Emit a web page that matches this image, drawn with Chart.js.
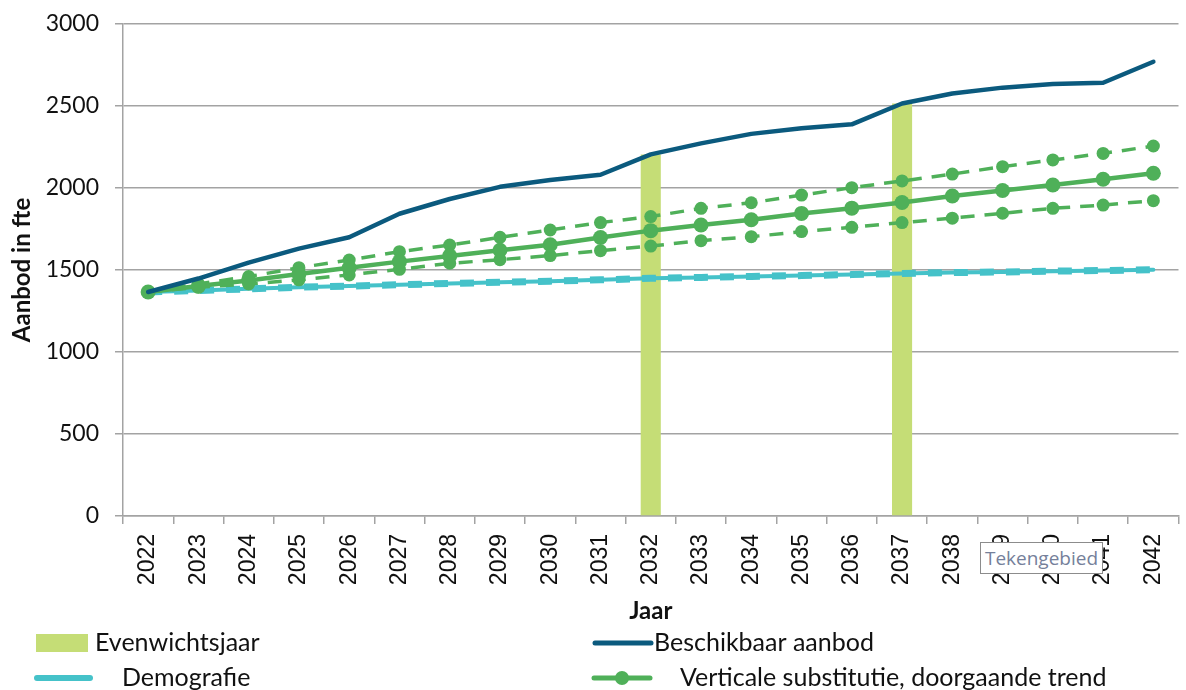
<!DOCTYPE html>
<html>
<head>
<meta charset="utf-8">
<script src="https://cdn.jsdelivr.net/npm/chart.js@4/dist/chart.umd.min.js"></script>
<style>
  html, body { margin: 0; padding: 0; background: #ffffff; }
  #wrap { position: relative; width: 1186px; height: 690px; }
  #tip {
    position: absolute; left: 980px; top: 542px; width: 123px; height: 32px;
    background: #ffffff; border: 1px solid #8c8c8c; box-sizing: border-box;
    font: 19px "Open Sans", sans-serif; color: #75809a; line-height: 30px; text-align: center;
  }
</style>
</head>
<body>
<div id="wrap">
  <canvas id="c" width="1186" height="690"></canvas>
  <div id="tip">Tekengebied</div>
</div>
<script>
// Jaren op de x-as
const jaren = ['2022','2023','2024','2025','2026','2027','2028','2029','2030','2031','2032',
               '2033','2034','2035','2036','2037','2038','2039','2040','2041','2042'];

// Aanbod in fte per scenario
const beschikbaarAanbod = [1366,1448,1545,1630,1700,1843,1933,2007,2049,2081,2205,
                           2272,2330,2364,2388,2515,2576,2612,2634,2642,2770];
const demografie        = [1366,1375,1385,1395,1402,1410,1418,1425,1432,1440,1449,
                           1455,1461,1466,1472,1478,1484,1488,1493,1497,1502];
const vsTrend           = [1366,1402,1436,1476,1514,1551,1586,1620,1654,1698,1740,
                           1774,1806,1845,1877,1912,1951,1985,2018,2053,2090];
const vsBoven           = [1366,1415,1460,1514,1561,1612,1652,1699,1744,1789,1826,
                           1876,1910,1957,2002,2043,2085,2130,2171,2211,2256];
const vsOnder           = [1366,1395,1415,1440,1470,1504,1541,1563,1588,1618,1646,
                           1679,1703,1734,1760,1789,1816,1846,1876,1896,1923];

// Jaren waarin vraag en aanbod in evenwicht zijn
const evenwichtsjaren = ['2032','2037'];

// Y-as ticks
const yTicks = [0,500,1000,1500,2000,2500,3000];

const KLEUR_BALK  = '#c5dd76';
const KLEUR_BLAUW = '#0b5a7e';
const KLEUR_CYAAN = '#45c2c9';
const KLEUR_GROEN = '#4fb059';
const GRIJS = '#a3a3a3';
const TEKST = '#111111';

// Balk op de hoogte van het beschikbaar aanbod in elk evenwichtsjaar
const evenwichtData = jaren.map((j, i) => evenwichtsjaren.includes(j) ? beschikbaarAanbod[i] : null);

// Legenda met vaste posities onder de grafiek
const legendPlugin = {
  id: 'vasteLegenda',
  afterDraw(chart) {
    const ctx = chart.ctx;
    ctx.save();
    ctx.font = '25px Lato, sans-serif';
    ctx.textBaseline = 'middle';
    ctx.textAlign = 'left';
    ctx.lineCap = 'round';

    // Evenwichtsjaar
    ctx.fillStyle = KLEUR_BALK;
    ctx.fillRect(36, 634, 52, 18);
    ctx.fillStyle = TEKST;
    ctx.fillText('Evenwichtsjaar', 95, 643);

    // Beschikbaar aanbod
    ctx.strokeStyle = KLEUR_BLAUW; ctx.lineWidth = 5;
    ctx.beginPath(); ctx.moveTo(595, 643); ctx.lineTo(651, 643); ctx.stroke();
    ctx.fillText('Beschikbaar aanbod', 654, 643);

    // Demografie
    ctx.strokeStyle = KLEUR_CYAAN; ctx.lineWidth = 6;
    ctx.beginPath(); ctx.moveTo(37, 678); ctx.lineTo(90, 678); ctx.stroke();
    ctx.fillText('Demografie', 122, 678);

    // Verticale substitutie, doorgaande trend
    ctx.strokeStyle = KLEUR_GROEN; ctx.lineWidth = 5;
    ctx.beginPath(); ctx.moveTo(594, 678); ctx.lineTo(650, 678); ctx.stroke();
    ctx.fillStyle = KLEUR_GROEN;
    ctx.beginPath(); ctx.arc(622, 678, 7, 0, Math.PI * 2); ctx.fill();
    ctx.fillStyle = TEKST;
    ctx.fillText('Verticale substitutie, doorgaande trend', 680, 678);
    ctx.restore();
  }
};

const lijn = (label, data, kleur, breedte, extra) => Object.assign({
  type: 'line', label, data,
  borderColor: kleur, backgroundColor: kleur,
  borderWidth: breedte, pointRadius: 0, tension: 0, fill: false,
  borderCapStyle: 'round', borderJoinStyle: 'round', order: 1
}, extra || {});

new Chart(document.getElementById('c'), {
  data: {
    labels: jaren,
    datasets: [
      {
        type: 'bar', label: 'Evenwichtsjaar', data: evenwichtData,
        backgroundColor: KLEUR_BALK, borderWidth: 0,
        barPercentage: 0.4, categoryPercentage: 1.0, order: 10
      },
      lijn('Demografie', demografie, KLEUR_CYAAN, 4, { order: 5 }),
      lijn('Demografie (streep)', demografie, KLEUR_CYAAN, 7, { borderDash: [14, 12], borderCapStyle: 'butt', order: 5 }),
      lijn('Verticale substitutie, bovengrens', vsBoven, KLEUR_GROEN, 3.5,
           { borderDash: [14, 10], borderCapStyle: 'butt', pointRadius: 6.5, pointStyle: 'circle', pointBorderWidth: 0, order: 3 }),
      lijn('Verticale substitutie, ondergrens', vsOnder, KLEUR_GROEN, 3.5,
           { borderDash: [14, 10], borderCapStyle: 'butt', pointRadius: 6.5, pointStyle: 'circle', pointBorderWidth: 0, order: 3 }),
      lijn('Verticale substitutie, doorgaande trend', vsTrend, KLEUR_GROEN, 4.5,
           { pointRadius: 7.5, pointStyle: 'circle', pointBorderWidth: 0, order: 2 }),
      lijn('Beschikbaar aanbod', beschikbaarAanbod, KLEUR_BLAUW, 4.5, { order: 1 })
    ]
  },
  options: {
    responsive: false,
    animation: false,
    events: [],
    layout: { padding: { left: 0, right: 1, top: 24, bottom: 64 } },
    plugins: {
      legend: { display: false },
      tooltip: { enabled: false },
      title: { display: false }
    },
    scales: {
      x: {
        type: 'category',
        offset: true,
        afterFit(s) { s.height = 110; s.paddingLeft = 0; s.paddingRight = 0; },
        grid: {
          offset: true, drawOnChartArea: false, drawTicks: true,
          tickLength: 8, color: GRIJS, lineWidth: 1.5
        },
        border: { color: GRIJS, width: 1.5 },
        ticks: {
          minRotation: 90, maxRotation: 90, autoSkip: false, padding: 10,
          color: TEKST, font: { family: '"Liberation Sans", Arial, sans-serif', size: 23 }
        },
        title: {
          display: true, text: 'Jaar', color: TEKST,
          font: { family: 'Lato, sans-serif', size: 24, weight: 'bold' },
          padding: { top: 0, bottom: 0 }
        }
      },
      y: {
        min: 0, max: 3000,
        afterFit(s) { s.width = 123; s.paddingTop = 0; s.paddingBottom = 0; },
        afterBuildTicks(s) { s.ticks = yTicks.map(v => ({ value: v })); },
        grid: { color: GRIJS, lineWidth: 1.5, tickLength: 8, drawTicks: true },
        border: { color: GRIJS, width: 1.5 },
        ticks: {
          padding: 16, color: TEKST,
          font: { family: 'Lato, sans-serif', size: 23 },
          callback: v => String(v)
        },
        title: {
          display: true, text: 'Aanbod in fte', color: TEKST,
          font: { family: 'Lato, sans-serif', size: 24, weight: 'bold' },
          padding: { top: 8, bottom: 0 }
        }
      }
    }
  },
  plugins: [legendPlugin]
});
</script>
</body>
</html>
